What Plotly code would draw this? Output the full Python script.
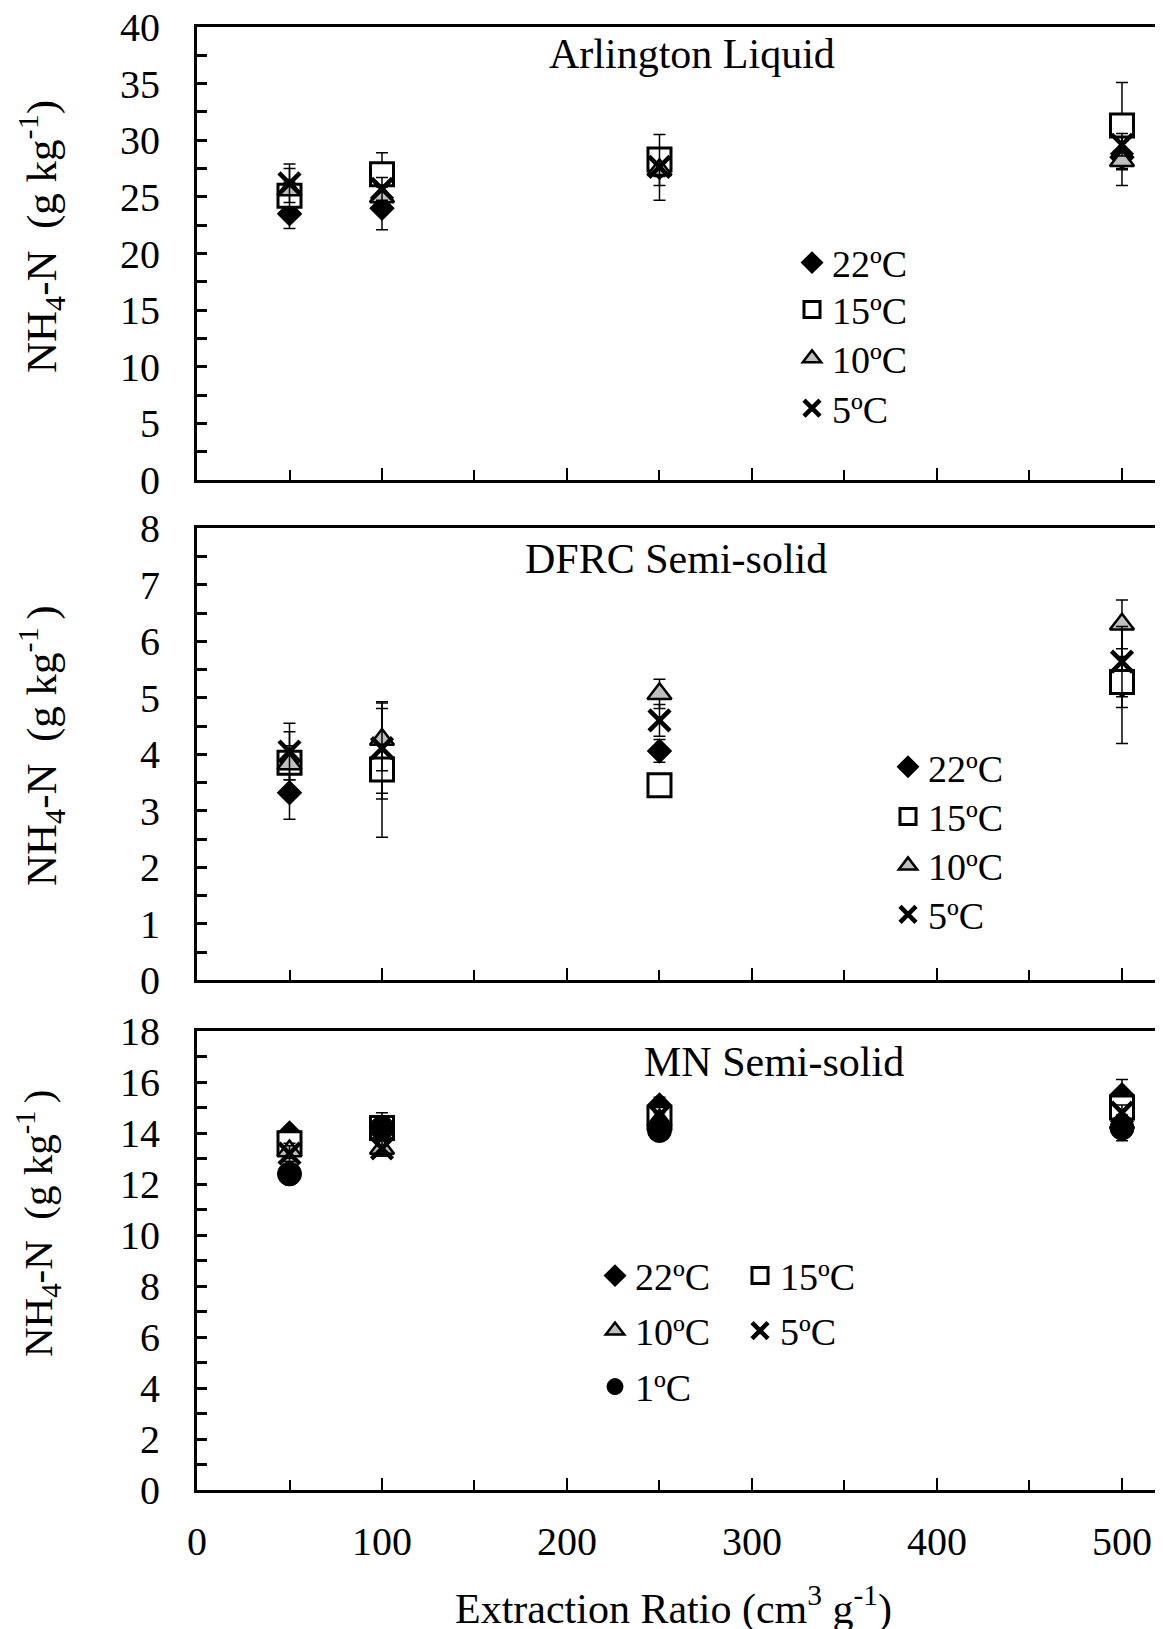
import plotly.graph_objects as go

# ---------------- data ----------------
ratios = [50, 100, 250, 500]
series_names = ["22ºC", "15ºC", "10ºC", "5ºC", "1ºC"]

# Arlington Liquid
arl_22 = [23.5, 24.0, 27.6, 28.5]
arl_22_err = [1.3, 1.9, 2.9, 2.5]
arl_15 = [25.1, 27.0, 28.3, 31.3]
arl_15_err = [1.2, 1.9, 0.8, 3.8]
arl_10 = [25.6, 25.0, 27.4, 28.2]
arl_10_err = [1.9, 0.9, 0.6, 0.8]
arl_5 = [26.2, 25.7, 27.65, 29.6]
arl_5_err = [1.7, 1.0, 1.65, 1.0]

# DFRC Semi-solid
dfrc_22 = [3.32, 3.73, 4.06, 5.22]
dfrc_22_err = [0.47, 0.52, 0.2, 1.03]
dfrc_15 = [3.85, 3.73, 3.45, 5.28]
dfrc_15_err = [0.3, 1.2, 0.0, 0.45]
dfrc_10 = [3.83, 4.26, 5.07, 6.3]
dfrc_10_err = [0.57, 0.55, 0.26, 0.43]
dfrc_5 = [4.05, 4.11, 4.6, 5.64]
dfrc_5_err = [0.5, 0.8, 0.28, 0.62]

# MN Semi-solid
mn_22 = [14.0, 14.1, 15.1, 15.5]
mn_22_err = [0.2, 0.3, 0.3, 0.6]
mn_15 = [13.6, 14.2, 14.6, 15.0]
mn_15_err = [0.3, 0.6, 0.3, 0.3]
mn_10 = [13.3, 13.4, 14.5, 14.4]
mn_10_err = [0.3, 0.3, 0.3, 0.3]
mn_5 = [13.2, 13.4, 14.7, 14.8]
mn_5_err = [0.3, 0.3, 0.3, 0.3]
mn_1 = [12.4, 14.2, 14.1, 14.2]
mn_1_err = [0.2, 0.3, 0.3, 0.5]

panel_titles = ["Arlington Liquid", "DFRC Semi-solid", "MN Semi-solid"]
y_titles = [
    "NH<sub>4</sub>-N  (g kg<sup>-1</sup>)",
    "NH<sub>4</sub>-N  (g kg<sup>-1 </sup>)",
    "NH<sub>4</sub>-N  (g kg<sup>-1 </sup>)",
]
x_title = "Extraction Ratio (cm<sup>3</sup> g<sup>-1</sup>)"
x_ticks = [0, 100, 200, 300, 400, 500]
x_minor_ticks = [50, 150, 250, 350, 450]

# ---------------- styles / geometry ----------------
FONT = "Liberation Serif, Times New Roman, serif"
W, H = 1163, 1629
ML = 189                     # left margin (px)
PW = W - ML                  # plot width (px)

styles = {
    "22ºC": dict(symbol="diamond", size=18, color="black", line=dict(color="black", width=1.5)),
    "15ºC": dict(symbol="square", size=23, color="white", line=dict(color="black", width=3)),
    "10ºC": dict(symbol="triangle-up", size=21, color="#bfbfbf", line=dict(color="black", width=2.5)),
    "5ºC": dict(symbol="x-thin-open", size=21, color="black", line=dict(color="black", width=4.5)),
    "1ºC": dict(symbol="circle", size=24, color="black", line=dict(color="black", width=1)),
}

def px_x(px):
    return (px - ML) / PW

def px_y(px):
    return 1 - px / H

fig = go.Figure()

# legend placement per entry: (legend id, symbol centre x, row centre y) in px
legend_slots = {}

def add(name, ys, errs, axis_idx, legend):
    sfx = "" if axis_idx == 1 else str(axis_idx)
    fig.add_trace(go.Scatter(
        x=ratios, y=ys, mode="markers", name=name,
        marker=styles[name],
        error_y=dict(type="data", array=errs, visible=True, color="black",
                     thickness=1.5, width=6),
        xaxis="x" + sfx, yaxis="y" + sfx, legend=legend,
    ))

# panel 1
add("22ºC", arl_22, arl_22_err, 1, "legend")
add("15ºC", arl_15, arl_15_err, 1, "legend2")
add("10ºC", arl_10, arl_10_err, 1, "legend3")
add("5ºC", arl_5, arl_5_err, 1, "legend4")
# panel 2
add("22ºC", dfrc_22, dfrc_22_err, 2, "legend5")
add("15ºC", dfrc_15, dfrc_15_err, 2, "legend6")
add("10ºC", dfrc_10, dfrc_10_err, 2, "legend7")
add("5ºC", dfrc_5, dfrc_5_err, 2, "legend8")
# panel 3
add("22ºC", mn_22, mn_22_err, 3, "legend9")
add("15ºC", mn_15, mn_15_err, 3, "legend10")
add("10ºC", mn_10, mn_10_err, 3, "legend11")
add("5ºC", mn_5, mn_5_err, 3, "legend12")
add("1ºC", mn_1, mn_1_err, 3, "legend13")

domains = [
    [px_y(472), px_y(19)],
    [px_y(972.3), px_y(520.3)],
    [px_y(1482.4), px_y(1023)],
]
yranges = [[0, 40], [0, 8], [0, 18]]
ydticks = [5, 1, 2]
yminor = [2.5, 0.5, 1]

tickfont = dict(family=FONT, size=40, color="black")
layout = dict(
    width=W, height=H,
    margin=dict(l=ML, r=0, t=0, b=0),
    paper_bgcolor="white", plot_bgcolor="white",
    font=dict(family=FONT, color="black"),
    showlegend=True,
)

for i in range(3):
    sfx = "" if i == 0 else str(i + 1)
    last = i == 2
    layout["xaxis" + sfx] = dict(
        domain=[0, 1], range=[0, 526.5], anchor="y" + sfx,
        tickvals=x_ticks, ticks="inside", ticklen=12, tickwidth=2, tickcolor="black",
        minor=dict(tickvals=x_minor_ticks, ticks="inside", ticklen=10,
                   tickwidth=2, tickcolor="black"),
        showticklabels=last, tickfont=tickfont, ticklabelstandoff=14,
        ticklabeloverflow="allow",
        showline=True, linecolor="black", linewidth=3, mirror=True,
        showgrid=False, zeroline=False, automargin=False,
    )
    layout["yaxis" + sfx] = dict(
        domain=domains[i], range=yranges[i], anchor="x" + sfx,
        tickvals=[v for v in range(yranges[i][0], yranges[i][1] + 1, ydticks[i])],
        ticks="inside", ticklen=10, tickwidth=2.5, tickcolor="black",
        minor=dict(dtick=yminor[i], tick0=0, ticks="inside", ticklen=10,
                   tickwidth=2.5, tickcolor="black"),
        tickfont=tickfont, ticklabelstandoff=26, ticklabeloverflow="allow",
        showline=True, linecolor="black", linewidth=3,
        showgrid=False, zeroline=False, automargin=False,
    )

LFS = 38
ROW_OFF = 0.884 * LFS
leg_common = dict(bgcolor="rgba(0,0,0,0)", borderwidth=0,
                  xanchor="left", yanchor="top", itemwidth=30,
                  font=dict(family=FONT, size=LFS, color="black"),
                  itemclick=False, itemdoubleclick=False)

# (symbol centre x, row centre y) for each legend, in figure px
leg_pos = [
    (803, 257), (803, 303.8), (803, 352.6), (803, 402.5),
    (899, 761.1), (899, 811), (899, 859.8), (899, 908.7),
    (606, 1270), (751, 1270), (606, 1325), (751, 1325), (606, 1381),
]
for k, (cx, cy) in enumerate(leg_pos):
    key = "legend" if k == 0 else "legend%d" % (k + 1)
    layout[key] = dict(x=px_x(cx - 19), y=px_y(cy - ROW_OFF), **leg_common)

annotations = []
title_pos = [(684, 46), (668, 551), (766, 1054)]
for t, (xp, yp) in zip(panel_titles, title_pos):
    annotations.append(dict(
        text=t, x=px_x(xp), y=px_y(yp), xref="paper", yref="paper",
        showarrow=False, xanchor="center", yanchor="middle",
        font=dict(family=FONT, size=42, color="black")))

ytitle_pos = [(34, 229, 43), (34, 738, 43), (30, 1216, 41)]
for t, (xp, yp, fs) in zip(y_titles, ytitle_pos):
    annotations.append(dict(
        text=t, x=px_x(xp), y=px_y(yp), xref="paper", yref="paper",
        showarrow=False, xanchor="center", yanchor="middle", textangle=-90,
        font=dict(family=FONT, size=fs, color="black")))

annotations.append(dict(
    text=x_title, x=px_x(665), y=px_y(1598), xref="paper", yref="paper",
    showarrow=False, xanchor="center", yanchor="middle",
    font=dict(family=FONT, size=42, color="black")))

layout["annotations"] = annotations

fig.update_layout(**layout)
fig.write_html("out.html")
